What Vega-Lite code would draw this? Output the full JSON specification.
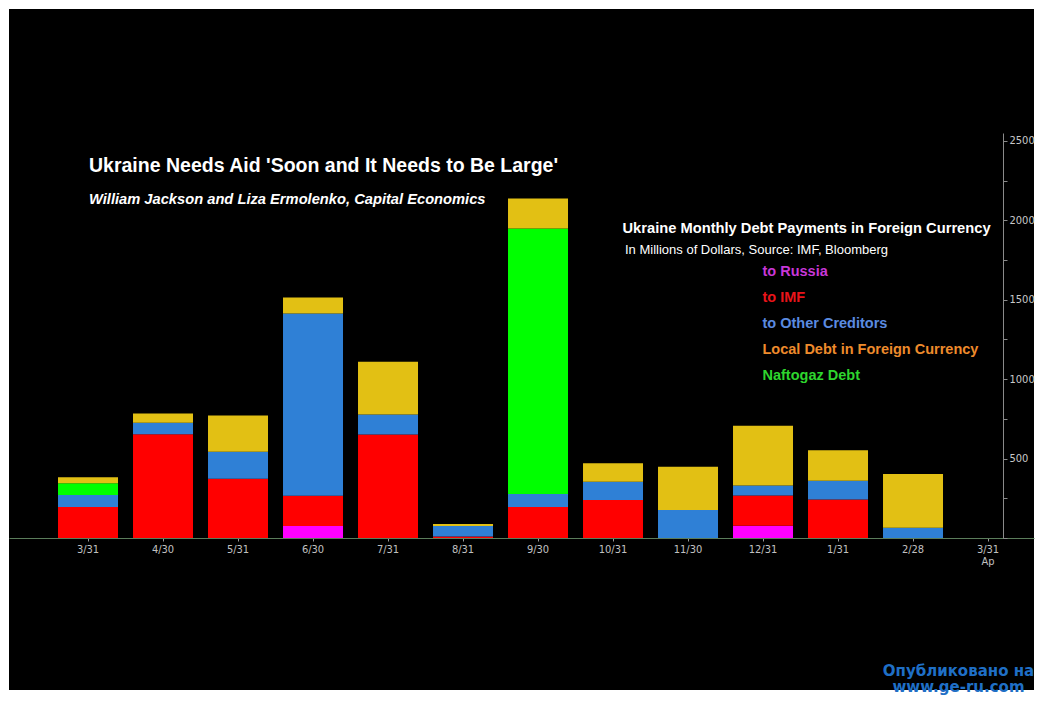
{
  "$schema": "https://vega.github.io/schema/vega-lite/v6.json",
  "width": 1025,
  "height": 681,
  "autosize": {"type": "none"},
  "padding": {"left": 9, "top": 9, "right": 16, "bottom": 15},
  "background": "#ffffff",
  "config": {"view": {"fill": "#000000", "stroke": null}},
  "title": {
    "text": "Ukraine Needs Aid 'Soon and It Needs to Be Large'",
    "subtitle": "William Jackson and Liza Ermolenko, Capital Economics",
    "anchor": "start",
    "frame": "group",
    "offset": 0,
    "dx": 80,
    "dy": 199,
    "color": "#ffffff",
    "font": "Liberation Sans",
    "fontSize": 19.5,
    "fontWeight": "bold",
    "subtitleColor": "#ffffff",
    "subtitleFont": "Liberation Sans",
    "subtitleFontSize": 14.7,
    "subtitleFontWeight": "bold",
    "subtitleFontStyle": "italic",
    "subtitlePadding": 16
  },
  "datasets": {
    "bars": [
      {"month": "3/31 2014", "series": "to IMF", "value": 195},
      {"month": "3/31 2014", "series": "to Other Creditors", "value": 75},
      {"month": "3/31 2014", "series": "Naftogaz Debt", "value": 75},
      {"month": "3/31 2014", "series": "Local Debt in Foreign Currency", "value": 38},
      {"month": "4/30", "series": "to IMF", "value": 654},
      {"month": "4/30", "series": "to Other Creditors", "value": 71},
      {"month": "4/30", "series": "Local Debt in Foreign Currency", "value": 59},
      {"month": "5/31", "series": "to IMF", "value": 373},
      {"month": "5/31", "series": "to Other Creditors", "value": 170},
      {"month": "5/31", "series": "Local Debt in Foreign Currency", "value": 229},
      {"month": "6/30", "series": "to Russia", "value": 75},
      {"month": "6/30", "series": "to IMF", "value": 191},
      {"month": "6/30", "series": "to Other Creditors", "value": 1147},
      {"month": "6/30", "series": "Local Debt in Foreign Currency", "value": 101},
      {"month": "7/31", "series": "to IMF", "value": 652},
      {"month": "7/31", "series": "to Other Creditors", "value": 126},
      {"month": "7/31", "series": "Local Debt in Foreign Currency", "value": 331},
      {"month": "8/31", "series": "to IMF", "value": 10},
      {"month": "8/31", "series": "to Other Creditors", "value": 65},
      {"month": "8/31", "series": "Local Debt in Foreign Currency", "value": 13},
      {"month": "9/30", "series": "to IMF", "value": 195},
      {"month": "9/30", "series": "to Other Creditors", "value": 82},
      {"month": "9/30", "series": "Naftogaz Debt", "value": 1671},
      {"month": "9/30", "series": "Local Debt in Foreign Currency", "value": 189},
      {"month": "10/31", "series": "to IMF", "value": 239},
      {"month": "10/31", "series": "to Other Creditors", "value": 115},
      {"month": "10/31", "series": "Local Debt in Foreign Currency", "value": 116},
      {"month": "11/30", "series": "to Other Creditors", "value": 176},
      {"month": "11/30", "series": "Local Debt in Foreign Currency", "value": 272},
      {"month": "12/31", "series": "to Russia", "value": 77},
      {"month": "12/31", "series": "to IMF", "value": 191},
      {"month": "12/31", "series": "to Other Creditors", "value": 63},
      {"month": "12/31", "series": "Local Debt in Foreign Currency", "value": 375},
      {"month": "1/31", "series": "to IMF", "value": 243},
      {"month": "1/31", "series": "to Other Creditors", "value": 117},
      {"month": "1/31", "series": "Local Debt in Foreign Currency", "value": 193},
      {"month": "2/28", "series": "to Other Creditors", "value": 65},
      {"month": "2/28", "series": "Local Debt in Foreign Currency", "value": 338}
    ],
    "seriesOrder": [
      {"series": "to Russia", "rank": 1},
      {"series": "to IMF", "rank": 2},
      {"series": "to Other Creditors", "rank": 3},
      {"series": "Naftogaz Debt", "rank": 4},
      {"series": "Local Debt in Foreign Currency", "rank": 5}
    ]
  },
  "data": {"name": "bars"},
  "transform": [
    {"lookup": "series", "from": {"data": {"name": "seriesOrder"}, "key": "series", "fields": ["rank"]}}
  ],
  "mark": {"type": "bar"},
  "encoding": {
    "x": {
      "field": "month",
      "type": "ordinal",
      "sort": null,
      "scale": {
        "domain": ["3/31 2014", "4/30", "5/31", "6/30", "7/31", "8/31", "9/30", "10/31", "11/30", "12/31", "1/31", "2/28", "3/31 2015"],
        "paddingInner": 0.2,
        "paddingOuter": 0.4333,
        "align": 0.754
      },
      "axis": {
        "orient": "bottom",
        "offset": -152,
        "labelAngle": 0,
        "labelExpr": "datum.value == '3/31 2015' ? ['3/31', 'Ap'] : split(datum.value, ' ')[0]",
        "domainColor": "#5b7d5b",
        "tickColor": "#9a9a9a",
        "tickSize": 3,
        "labelColor": "#c0c0c0",
        "labelFont": "DejaVu Sans Condensed, Liberation Sans",
        "labelFontSize": 11,
        "labelPadding": 2,
        "labelLineHeight": 12,
        "title": ["Опубликовано на", "www.ge-ru.com"],
        "titleX": 949,
        "titleY": 137,
        "titleAlign": "center",
        "titleBaseline": "alphabetic",
        "titleColor": "#1f6fc6",
        "titleFont": "DejaVu Sans",
        "titleFontSize": 15,
        "titleFontWeight": "bold",
        "titleLineHeight": 16
      }
    },
    "y": {
      "field": "value",
      "type": "quantitative",
      "stack": "zero",
      "scale": {"domain": [0, 2550], "range": [529, 124], "nice": false, "zero": true},
      "axis": {
        "orient": "right",
        "offset": -31,
        "values": [0, 250, 500, 750, 1000, 1250, 1500, 1750, 2000, 2250, 2500],
        "labelExpr": "datum.value > 0 && datum.value % 500 == 0 ? '' + datum.value : ''",
        "grid": false,
        "domainColor": "#8a8a8a",
        "tickColor": "#8a8a8a",
        "tickSize": 4,
        "labelColor": "#c8c8c8",
        "labelFont": "DejaVu Sans Condensed, Liberation Sans",
        "labelFontSize": 11,
        "labelPadding": 2,
        "title": "Ukraine Monthly Debt Payments in Foreign Currency",
        "titleAngle": 0,
        "titleX": -381,
        "titleY": 223,
        "titleAlign": "left",
        "titleBaseline": "alphabetic",
        "titleColor": "#ffffff",
        "titleFont": "Liberation Sans",
        "titleFontSize": 14.7,
        "titleFontWeight": "bold",
        "titleLimit": 1000
      }
    },
    "order": {"field": "rank", "type": "quantitative", "sort": "ascending"},
    "color": {
      "field": "series",
      "type": "nominal",
      "sort": ["to Russia", "to IMF", "to Other Creditors", "Naftogaz Debt", "Local Debt in Foreign Currency"],
      "scale": {"range": ["#ff00ff", "#ff0000", "#2f80d6", "#00ff00", "#e2c014"]},
      "legend": {
        "orient": "none",
        "legendX": 616,
        "legendY": 235,
        "padding": 0,
        "values": ["to Russia", "to IMF", "to Other Creditors", "Local Debt in Foreign Currency", "Naftogaz Debt"],
        "title": "In Millions of Dollars, Source: IMF, Bloomberg",
        "titleFont": "Liberation Sans",
        "titleFontSize": 13,
        "titleFontWeight": "normal",
        "titleColor": "#ffffff",
        "titleLimit": 1000,
        "titlePadding": 8,
        "labelFont": "Liberation Sans",
        "labelFontSize": 14.5,
        "labelFontWeight": "bold",
        "labelLimit": 1000,
        "labelColor": {"expr": "datum.value == 'to Russia' ? '#c837d8' : datum.value == 'to IMF' ? '#e8141a' : datum.value == 'to Other Creditors' ? '#5b8be0' : datum.value == 'Local Debt in Foreign Currency' ? '#ee8b2c' : '#2ed62e'"},
        "labelOffset": 123,
        "symbolSize": 4,
        "symbolOpacity": 0,
        "symbolStrokeWidth": 0,
        "rowPadding": 11
      }
    }
  }
}
